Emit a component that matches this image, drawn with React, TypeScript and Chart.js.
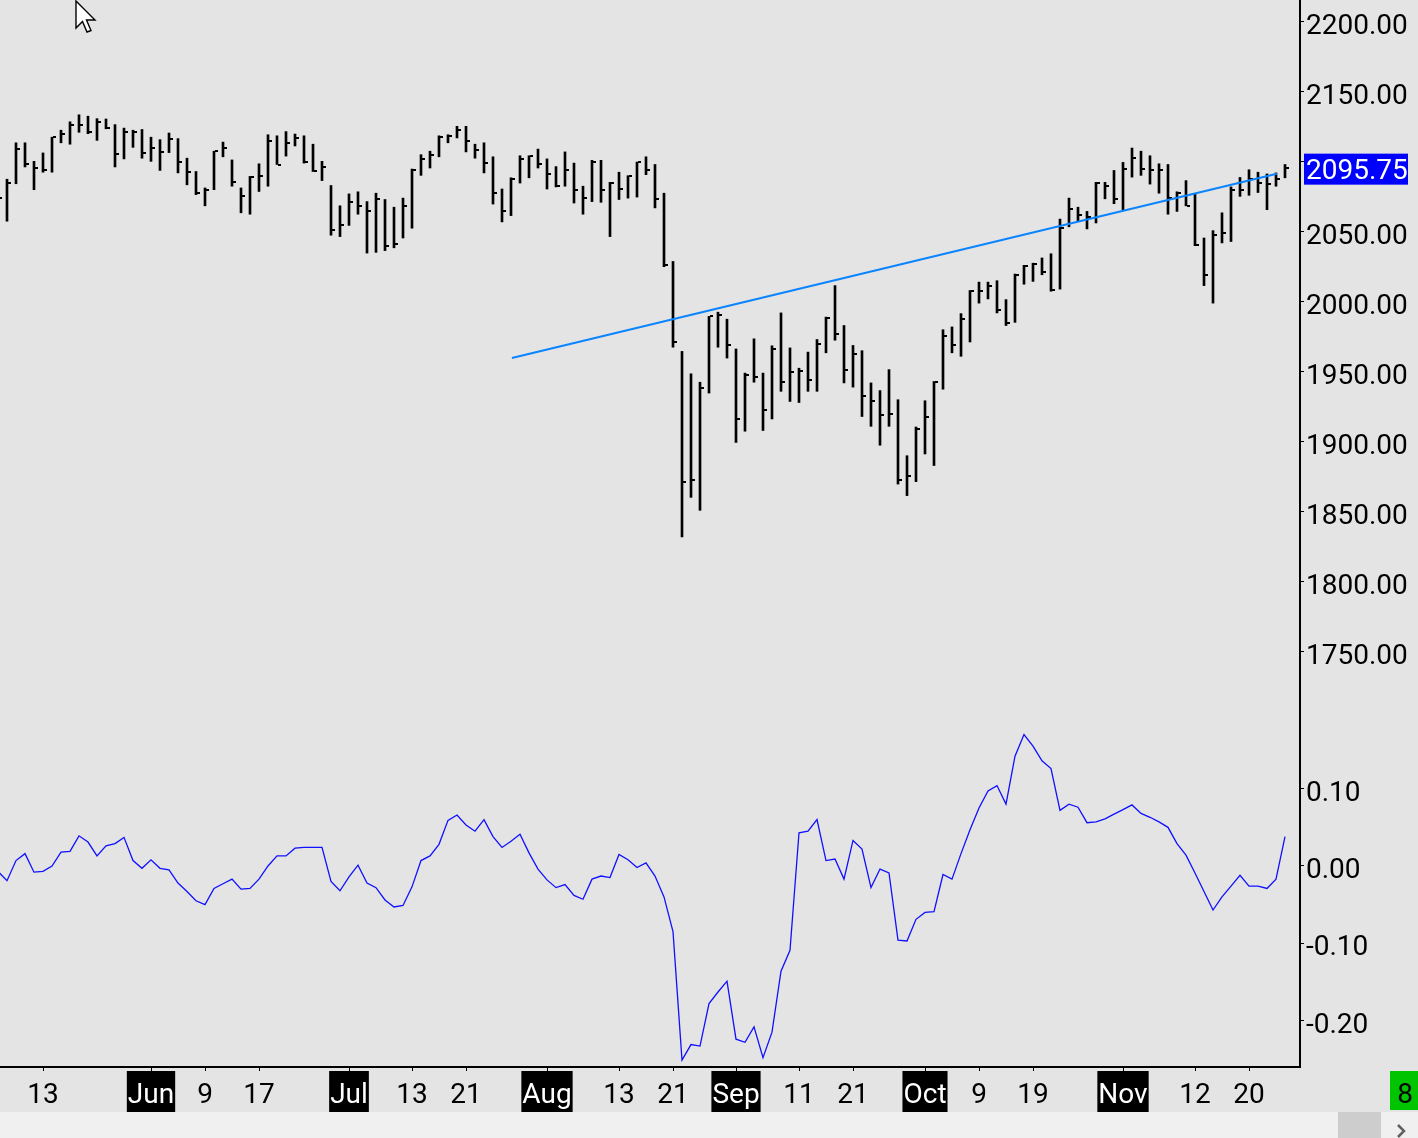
import { useEffect, useRef } from "react";
import { Chart, registerables, type Plugin } from "chart.js";

Chart.register(...registerables);

// one entry per session, May 6 .. Nov 27 2015 (first one is cut by the left edge)
const highs = [
  2082, 2087.5, 2113.5, 2113.5, 2100.25, 2106.25, 2117.5, 2122.5, 2128.5, 2133.5,
  2132.5, 2130.75, 2130.5, 2126.5, 2124, 2122.5, 2123, 2117.5, 2115.75, 2120.5,
  2116.5, 2102.5, 2093, 2081.25, 2107.5, 2114, 2101.25, 2081.25, 2089.5, 2098.5,
  2119.25, 2118.5, 2121.5, 2119.75, 2118.5, 2112.5, 2100.25, 2083, 2068.5, 2077,
  2078.5, 2071.5, 2077.5, 2073, 2067.5, 2074, 2094.75, 2105, 2107.5, 2118.5,
  2119.25, 2125.25, 2125.25, 2112.5, 2113.5, 2103.5, 2080.5, 2088.5, 2104.25, 2104.25,
  2109, 2102, 2096.5, 2107, 2099, 2082.5, 2101, 2101, 2085.25, 2092.5,
  2090, 2099.75, 2103.5, 2098, 2077.5, 2028.75, 1964.5, 1948.5, 1942.5, 1989.5,
  1992.5, 1987.5, 1966.25, 1949, 1973.5, 1949, 1968.5, 1992, 1967, 1952.5,
  1964, 1973, 1989, 2011.5, 1983, 1968.75, 1965, 1942, 1936.5, 1951.5,
  1930, 1890, 1910.5, 1929.25, 1943, 1980, 1982, 1991.5, 2008, 2014,
  2014, 2015, 2001.5, 2019.75, 2026, 2027.5, 2031.25, 2034.25, 2059, 2074,
  2067.5, 2064.5, 2085.25, 2085.25, 2093.75, 2099.5, 2109.75, 2107.5, 2104.25, 2098.5,
  2098, 2078.5, 2086.5, 2077, 2045.5, 2050.75, 2063.5, 2082, 2088.75, 2094.25,
  2092.5, 2091.25, 2092, 2098,
];

const lows = [
  2062, 2057.5, 2084.25, 2096.25, 2080, 2092.5, 2092.5, 2113.5, 2112.5, 2121,
  2120, 2115.25, 2123.5, 2096.25, 2102, 2110.25, 2102.5, 2100.25, 2093.75, 2106.5,
  2092, 2083.5, 2076.5, 2068.5, 2080, 2103.5, 2082.5, 2063.5, 2062.5, 2078.75,
  2082.5, 2098, 2104, 2111.25, 2099, 2093, 2086.5, 2047.5, 2046.5, 2054.5,
  2062.5, 2034.75, 2035.25, 2036.5, 2038.5, 2045.5, 2052.5, 2090.25, 2095.5, 2103.5,
  2113.5, 2117, 2107, 2102.5, 2092, 2069.75, 2057, 2061.5, 2084.75, 2088.5,
  2095.5, 2080.5, 2082, 2082.5, 2070.5, 2062.5, 2071.5, 2071, 2046.5, 2073,
  2074, 2074.75, 2090.75, 2067, 2025, 1967.5, 1832, 1860.25, 1851, 1934.75,
  1967.5, 1959.75, 1899.5, 1907.5, 1942.5, 1908, 1916.25, 1936, 1928.75, 1928,
  1936, 1936, 1963.5, 1972.5, 1942, 1939, 1918, 1911, 1897.5, 1911,
  1869.75, 1861.5, 1871.5, 1891.25, 1883, 1937.5, 1963.5, 1961, 1971.25, 1999,
  2002, 1992, 1983, 1985.25, 2012.5, 2014.5, 2019.25, 2007.5, 2009, 2053.5,
  2057.5, 2052, 2056.25, 2073.5, 2070, 2065.75, 2089, 2090.25, 2084, 2077.5,
  2062.5, 2064.5, 2068.5, 2040, 2011.5, 1999, 2042, 2043, 2075.25, 2076,
  2078, 2065.75, 2082.5, 2088.5,
];

const closes = [
  2074.25, 2084.75, 2109, 2098.5, 2095.5, 2093.75, 2117.5, 2120, 2126, 2126.5,
  2121.5, 2128.5, 2124, 2105.75, 2121, 2121.5, 2106.25, 2109.75, 2107, 2116.5,
  2099.5, 2092.5, 2078, 2080, 2107.5, 2110, 2085.5, 2075.75, 2089, 2089.5,
  2114.75, 2098, 2113.5, 2117, 2099.5, 2093.25, 2096, 2051, 2054.5, 2071.5,
  2068.5, 2064.5, 2073.5, 2039.5, 2041.5, 2068.5, 2094.25, 2102, 2104.5, 2117.5,
  2118.5, 2122.5, 2114.5, 2108.5, 2099, 2077.5, 2065, 2087.5, 2102, 2103.75,
  2098.5, 2091.5, 2083, 2093.75, 2079.5, 2074, 2099.5, 2079.5, 2084.75, 2080.75,
  2089.5, 2099.75, 2094.25, 2073.5, 2026, 1971.5, 1871.5, 1873, 1938.5, 1989.5,
  1990.25, 1969.25, 1916.5, 1947.5, 1946.5, 1922.5, 1966.25, 1943, 1949.5, 1950.25,
  1944.25, 1970, 1988.5, 1977, 1951, 1963, 1932.5, 1928.75, 1918.75, 1919.75,
  1873, 1875.25, 1909, 1917.5, 1943, 1975.25, 1968.75, 1987.5, 2008, 2007.5,
  2011, 1994.25, 1984.75, 2019.25, 2025.75, 2027, 2021, 2008.5, 2053, 2066.25,
  2062, 2060.5, 2084.75, 2083, 2073.5, 2095, 2103, 2094.75, 2093.75, 2093.75,
  2074, 2078, 2068.5, 2040.75, 2018.75, 2048, 2049, 2080, 2079.5, 2087.5,
  2084.75, 2084.25, 2088, 2095.75,
];

// lower panel oscillator
const oscillator = [
  -0.007, -0.019, 0.007, 0.016, -0.008, -0.007, 0.0, 0.018, 0.019, 0.039,
  0.031, 0.013, 0.026, 0.029, 0.037, 0.007, -0.003, 0.008, -0.003, -0.005,
  -0.022, -0.033, -0.045, -0.05, -0.029, -0.023, -0.017, -0.03, -0.029, -0.017,
  0.0, 0.013, 0.013, 0.023, 0.024, 0.024, 0.024, -0.02, -0.032, -0.014,
  0.001, -0.022, -0.028, -0.044, -0.053, -0.051, -0.027, 0.007, 0.013, 0.028,
  0.059, 0.066, 0.053, 0.045, 0.06, 0.038, 0.024, 0.032, 0.041, 0.017,
  -0.004, -0.018, -0.028, -0.024, -0.038, -0.043, -0.017, -0.013, -0.015, 0.015,
  0.008, -0.002, 0.004, -0.013, -0.04, -0.085, -0.251, -0.231, -0.233, -0.178,
  -0.163, -0.149, -0.224, -0.228, -0.208, -0.248, -0.215, -0.136, -0.109, 0.043,
  0.045, 0.06, 0.007, 0.009, -0.017, 0.033, 0.022, -0.028, -0.004, -0.009,
  -0.096, -0.097, -0.069, -0.06, -0.059, -0.011, -0.017, 0.016, 0.047, 0.075,
  0.097, 0.104, 0.08, 0.142, 0.17, 0.155, 0.136, 0.126, 0.072, 0.08,
  0.076, 0.056, 0.057, 0.061, 0.067, 0.073, 0.079, 0.068, 0.063, 0.057,
  0.05, 0.029, 0.014, -0.009, -0.033, -0.057, -0.04, -0.026, -0.012, -0.026,
  -0.026, -0.029, -0.017, 0.038,
];

// hand drawn trend line (session index, price)
const trendX = [57.1, 142.1];
const trendY = [1959.8, 2091.4];

const priceTicks = [2200, 2150, 2100, 2050, 2000, 1950, 1900, 1850, 1800, 1750];
const oscTicks = [0.1, 0, -0.1, -0.2];

const dateTickIndex = [5, 17, 23, 29, 39, 46, 52, 61, 69, 75, 82, 89, 95, 103, 109, 115, 125, 133, 139];
const dateTickLabels = ["13", "Jun", "9", "17", "Jul", "13", "21", "Aug", "13", "21", "Sep", "11", "21", "Oct", "9", "19", "Nov", "12", "20"];
const monthLabels = ["Jun", "Jul", "Aug", "Sep", "Oct", "Nov"];

const lastPrice = 2095.75;
const counterText = "8";

const FONT = "Roboto, 'Liberation Sans', sans-serif";

const noPadding = (s: any) => {
  s.paddingTop = 0;
  s.paddingBottom = 0;
  s.paddingLeft = 0;
  s.paddingRight = 0;
};

const overlay: Plugin = {
  id: "overlay",
  afterDraw(chart) {
    const { ctx } = chart;
    const y = chart.scales.y;
    const x = chart.scales.x;
    const py = y.getPixelForValue(lastPrice);
    ctx.save();
    ctx.fillStyle = "#0000ff";
    ctx.fillRect(y.left + 4, py - 14, 104, 31);
    ctx.fillStyle = "#ffffff";
    ctx.font = `28px ${FONT}`;
    ctx.textBaseline = "middle";
    ctx.textAlign = "left";
    ctx.fillText(lastPrice.toFixed(2), y.left + 6, py + 4);

    ctx.fillStyle = "#00c400";
    ctx.fillRect(1390, x.top + 4, 28, 39);
    ctx.fillStyle = "#000000";
    ctx.textAlign = "center";
    ctx.fillText(counterText, 1405, x.top + 29);
    ctx.restore();
  },
};

export default function App() {
  const canvasRef = useRef<HTMLCanvasElement | null>(null);

  useEffect(() => {
    if (!canvasRef.current) return;

    // close tick: small mark to the right of the bar
    const tick = document.createElement("canvas");
    tick.width = 8;
    tick.height = 2;
    const tctx = tick.getContext("2d");
    if (tctx) {
      tctx.fillStyle = "#000";
      tctx.fillRect(5, 0, 3, 2);
    }

    const chart = new Chart(canvasRef.current, {
      type: "line",
      data: {
        datasets: [
          {
            type: "line",
            data: trendX.map((v, i) => ({ x: v, y: trendY[i] })),
            borderColor: "#0a84ff",
            borderWidth: 2,
            pointRadius: 0,
            xAxisID: "x",
            yAxisID: "y",
          },
          {
            type: "line",
            data: closes.map((c, i) => ({ x: i, y: c })),
            showLine: false,
            pointStyle: tick,
            pointRadius: 4,
            xAxisID: "x",
            yAxisID: "y",
          },
          {
            type: "bar",
            data: highs.map((h, i) => ({ x: i, y: [lows[i], h] })),
            backgroundColor: "#000",
            borderWidth: 0,
            barThickness: 2,
            xAxisID: "x",
            yAxisID: "y",
          },
          {
            type: "line",
            data: oscillator.map((v, i) => ({ x: i, y: v })),
            borderColor: "#1010ff",
            borderWidth: 1.3,
            pointRadius: 0,
            tension: 0,
            xAxisID: "x",
            yAxisID: "yInd",
          },
        ] as any,
      },
      options: {
        responsive: false,
        animation: false,
        events: [],
        layout: { padding: 0, autoPadding: false },
        plugins: { legend: { display: false }, tooltip: { enabled: false } },
        scales: {
          x: {
            type: "linear",
            position: "bottom",
            min: 2 / 9,
            max: 1302 / 9,
            bounds: "data",
            offset: false,
            afterFit: (s: any) => {
              s.height = 45;
              noPadding(s);
            },
            afterBuildTicks: (s: any) => {
              s.ticks = dateTickIndex.map((v) => ({ value: v }));
            },
            border: { display: true, color: "#000", width: 2 },
            grid: { drawOnChartArea: false, drawTicks: true, tickLength: 4, color: "#000", offset: false },
            ticks: {
              autoSkip: false,
              maxRotation: 0,
              minRotation: 0,
              padding: 8,
              font: { family: FONT, size: 28 },
              callback: (_v: any, i: number) => dateTickLabels[i],
              color: (c: any) => (monthLabels.includes(dateTickLabels[c.index]) ? "#ffffff" : "#000000"),
              showLabelBackdrop: (c: any) => monthLabels.includes(dateTickLabels[c.index]),
              backdropColor: "#000000",
              backdropPadding: { top: 8, bottom: 1, left: 1, right: 1 },
            },
          },
          y: {
            type: "linear",
            position: "right",
            stack: "right",
            stackWeight: 715,
            min: 1704.8,
            max: 2215.5,
            bounds: "data",
            beginAtZero: false,
            afterFit: (s: any) => {
              s.width = 118;
              noPadding(s);
            },
            afterBuildTicks: (s: any) => {
              s.ticks = priceTicks.map((v) => ({ value: v }));
            },
            border: { display: true, color: "#000", width: 2 },
            grid: { drawOnChartArea: false, drawTicks: true, tickLength: 4, color: "#000" },
            ticks: {
              padding: 2,
              labelOffset: 5,
              color: "#000",
              font: { family: FONT, size: 28 },
              // the last price box sits over the nearest grid label
              callback: (v: any) => (Math.abs(Number(v) - lastPrice) < 20 ? "" : Number(v).toFixed(2)),
            },
          },
          yInd: {
            type: "linear",
            position: "right",
            stack: "right",
            stackWeight: 352,
            min: -0.26,
            max: 0.1953,
            bounds: "data",
            beginAtZero: false,
            afterFit: (s: any) => {
              s.width = 118;
              noPadding(s);
            },
            afterBuildTicks: (s: any) => {
              s.ticks = oscTicks.map((v) => ({ value: v }));
            },
            border: { display: true, color: "#000", width: 2 },
            grid: { drawOnChartArea: false, drawTicks: true, tickLength: 4, color: "#000" },
            ticks: {
              padding: 2,
              labelOffset: 5,
              color: "#000",
              font: { family: FONT, size: 28 },
              callback: (v: any) => Number(v).toFixed(2),
            },
          },
        },
      } as any,
      plugins: [overlay],
    });

    return () => {
      chart.destroy();
    };
  }, []);

  return (
    <div style={{ position: "relative", width: 1418, height: 1138, background: "#e4e4e4", overflow: "hidden" }}>
      <style>{"body{margin:0}"}</style>
      <canvas ref={canvasRef} width={1418} height={1112} style={{ display: "block" }} />
      <div style={{ position: "absolute", left: 0, top: 1112, width: 1418, height: 26, background: "#f0f0f0" }}>
        <div style={{ position: "absolute", left: 1338, top: 0, width: 43, height: 26, background: "#cdcdcd" }} />
        <svg style={{ position: "absolute", left: 1394, top: 12 }} width="16" height="14">
          <polyline points="4,1 10,7 4,13" fill="none" stroke="#606060" strokeWidth="2.5" />
        </svg>
      </div>
      <svg style={{ position: "absolute", left: 75, top: 0 }} width="28" height="36">
        <polygon
          points="1,1 1,28 7.5,21.5 12,32 16,30.5 11.5,20 20,20"
          fill="#ffffff"
          stroke="#000000"
          strokeWidth="1.4"
          strokeLinejoin="miter"
        />
      </svg>
    </div>
  );
}
